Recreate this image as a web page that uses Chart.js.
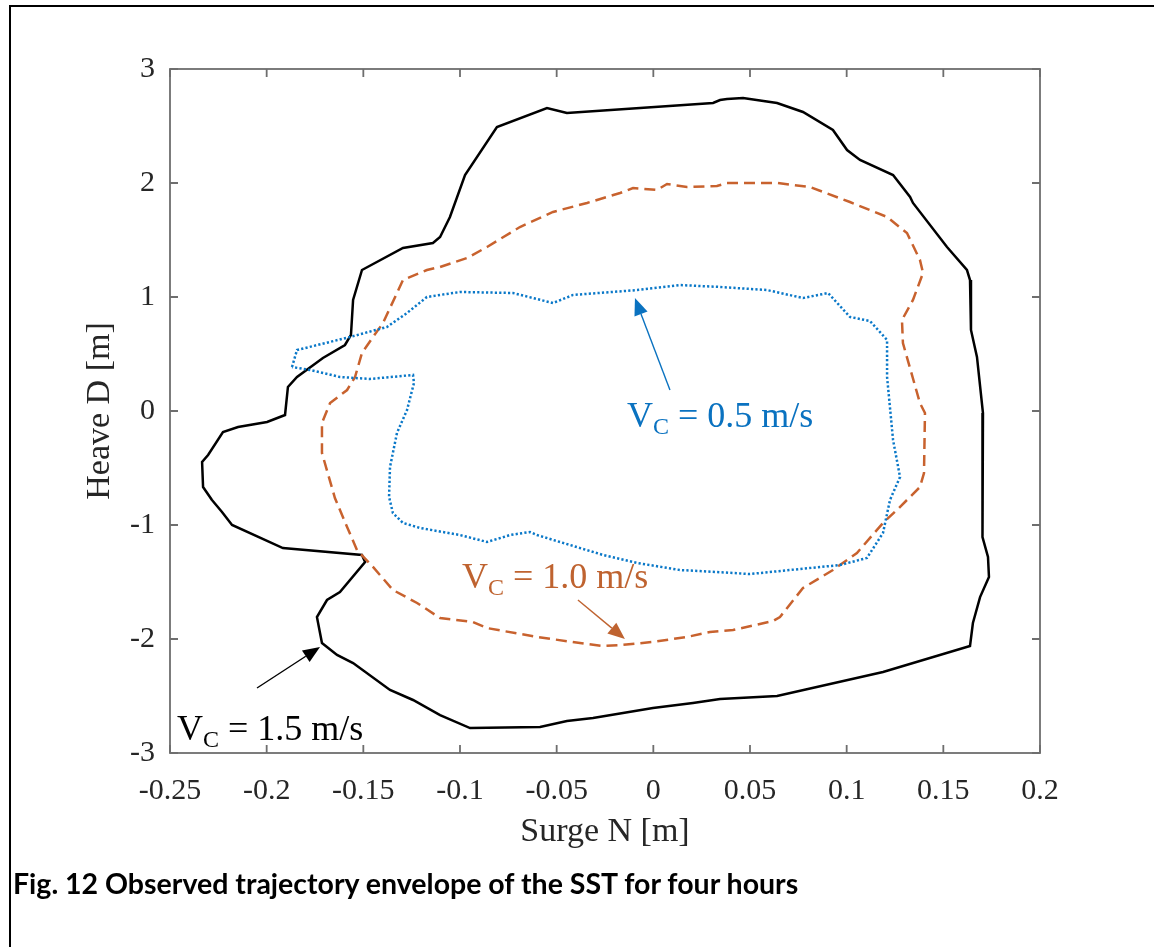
<!DOCTYPE html>
<html>
<head>
<meta charset="utf-8">
<script src="https://cdn.jsdelivr.net/npm/chart.js@4.4.1/dist/chart.umd.min.js"></script>
<style>
  html, body { margin: 0; padding: 0; background: #fff; }
  #wrap { position: relative; width: 1154px; height: 947px; overflow: hidden; }
  #frame { position: absolute; left: 9px; top: 5px; width: 1300px; height: 1100px;
           border-top: 2.5px solid #000; border-left: 2.5px solid #000; }
  #envelope { position: absolute; left: 0; top: 0; }
  #caption { position: absolute; left: 13px; top: 866px; font: bold 28.5px/34px Lato, sans-serif; color: #000; white-space: nowrap; }
</style>
</head>
<body>
<div id="wrap">
  <div id="frame"></div>
  <canvas id="envelope" width="1154" height="947"></canvas>
  <div id="caption">Fig. 12 Observed trajectory envelope of the SST for four hours</div>
</div>
<script>
// Envelope outlines, surge N [m] vs heave D [m]; each loop closes on its first point
const vc15X = [-0.2283, -0.2329, -0.2334, -0.2303, -0.2226, -0.2148, -0.1998, -0.1905, -0.1890, -0.1843,
  -0.1709, -0.1595, -0.1564, -0.1553, -0.1507, -0.1295, -0.1140, -0.1103, -0.1052, -0.0974,
  -0.0809, -0.0550, -0.0447, 0.0309, 0.0345, 0.0381, 0.0464, 0.0640, 0.0774, 0.0929,
  0.1002, 0.1069, 0.1240, 0.1328, 0.1343, 0.1519, 0.1622, 0.1638, 0.1643, 0.1674,
  0.1705, 0.1700, 0.1705, 0.1731, 0.1736, 0.1690, 0.1653, 0.1638, 0.1188, 0.0640,
  0.0345, 0.0205, -0.0002, -0.0312, -0.0447, -0.0586, -0.0948, -0.1103, -0.1243, -0.1362,
  -0.1553, -0.1636, -0.1714, -0.1740, -0.1688, -0.1621, -0.1491, -0.1507, -0.1916, -0.2179,
  -0.2231, -0.2283];
const vc15Y = [-0.781, -0.667, -0.447, -0.386, -0.184, -0.140, -0.096, -0.035, 0.211, 0.298,
  0.465, 0.579, 0.667, 0.974, 1.237, 1.430, 1.474, 1.526, 1.702, 2.070,
  2.491, 2.658, 2.614, 2.702, 2.728, 2.737, 2.746, 2.702, 2.623, 2.465,
  2.289, 2.202, 2.070, 1.877, 1.825, 1.439, 1.237, 1.149, 0.711, 0.474,
  -0.018, -0.368, -1.105, -1.281, -1.456, -1.632, -1.860, -2.061, -2.289, -2.500,
  -2.526, -2.561, -2.605, -2.693, -2.719, -2.772, -2.781, -2.667, -2.535, -2.447,
  -2.211, -2.140, -2.035, -1.807, -1.658, -1.588, -1.325, -1.263, -1.202, -1.000,
  -0.886, -0.781];

const vc10X = [-0.1533, -0.1584, -0.1647, -0.1714, -0.1714, -0.1672, -0.1584, -0.1543, -0.1507, -0.1450,
  -0.1398, -0.1295, -0.1171, -0.1103, -0.0964, -0.0860, -0.0690, -0.0519, -0.0343, -0.0172,
  -0.0105, 0.0019, 0.0071, 0.0174, 0.0329, 0.0381, 0.0640, 0.0810, 0.1017, 0.1209,
  0.1312, 0.1379, 0.1395, 0.1343, 0.1286, 0.1291, 0.1379, 0.1405, 0.1400, 0.1379,
  0.1260, 0.1188, 0.1053, 0.0929, 0.0774, 0.0655, 0.0619, 0.0412, 0.0293, 0.0174,
  -0.0002, -0.0172, -0.0260, -0.0343, -0.0602, -0.0860, -0.0933, -0.1103, -0.1222, -0.1347,
  -0.1450, -0.1533];
const vc10Y = [-1.219, -1.018, -0.763, -0.368, -0.105, 0.070, 0.184, 0.298, 0.509, 0.649,
  0.772, 1.149, 1.237, 1.263, 1.342, 1.439, 1.614, 1.746, 1.825, 1.912,
  1.956, 1.939, 1.991, 1.965, 1.974, 2.000, 2.000, 1.965, 1.833, 1.702,
  1.561, 1.325, 1.211, 0.974, 0.798, 0.596, 0.070, -0.018, -0.544, -0.667,
  -0.868, -0.982, -1.246, -1.395, -1.553, -1.807, -1.842, -1.921, -1.939, -1.982,
  -2.026, -2.053, -2.061, -2.044, -1.982, -1.904, -1.851, -1.816, -1.684, -1.570,
  -1.368, -1.219];

const vc05X = [-0.1869, -0.1843, -0.1569, -0.1378, -0.1274, -0.1171, -0.1103, -0.1000, -0.0726, -0.0519,
  -0.0415, -0.0084, 0.0138, 0.0345, 0.0588, 0.0774, 0.0904, 0.1017, 0.1121, 0.1209,
  0.1209, 0.1240, 0.1276, 0.1224, 0.1188, 0.1105, 0.0966, 0.0759, 0.0500, 0.0241,
  0.0138, -0.0084, -0.0260, -0.0602, -0.0638, -0.0741, -0.0860, -0.1000, -0.1207, -0.1295,
  -0.1347, -0.1367, -0.1362, -0.1326, -0.1274, -0.1238, -0.1243, -0.1466, -0.1621, -0.1776,
  -0.1869];
const vc05Y = [0.386, 0.535, 0.649, 0.737, 0.860, 1.000, 1.018, 1.044, 1.035, 0.947,
  1.018, 1.061, 1.105, 1.088, 1.061, 0.991, 1.035, 0.825, 0.789, 0.623,
  0.298, -0.254, -0.579, -0.781, -1.070, -1.289, -1.351, -1.386, -1.430, -1.404,
  -1.395, -1.333, -1.263, -1.088, -1.061, -1.088, -1.149, -1.088, -1.026, -0.982,
  -0.895, -0.754, -0.491, -0.193, 0.009, 0.246, 0.316, 0.281, 0.298, 0.360,
  0.386];

// Axis ticks
const xTicks = [-0.25, -0.2, -0.15, -0.1, -0.05, 0, 0.05, 0.1, 0.15, 0.2];
const xTickLabels = ['-0.25', '-0.2', '-0.15', '-0.1', '-0.05', '0', '0.05', '0.1', '0.15', '0.2'];
const yTicks = [-3, -2, -1, 0, 1, 2, 3];
const yTickLabels = ['-3', '-2', '-1', '0', '1', '2', '3'];

// Current-speed labels with their arrows (data coordinates)
const noteSpeed = ['0.5', '1.0', '1.5'];
const noteX = [-0.0136, -0.0990, -0.2464];
const noteY = [-0.140, -1.553, -2.886];
const arrowFromX = [0.0086, -0.0390, -0.2050];
const arrowFromY = [0.184, -1.658, -2.430];
const arrowToX = [-0.0095, -0.0147, -0.1724];
const arrowToY = [0.991, -2.000, -2.070];
const noteColor = ['#0a72c0', '#bf6330', '#000000'];

const pts = (xs, ys) => xs.map((x, i) => ({ x, y: ys[i] }));
const SERIF = '"Liberation Serif", "Times New Roman", serif';
const AXIS_GREY = '#6e6e6e';
const TEXT = '#262626';

// MATLAB-style box with inward ticks on all four sides
const boxAxes = {
  id: 'boxAxes',
  afterDatasetsDraw(chart) {
    const { ctx, chartArea: a, scales: { x, y } } = chart;
    ctx.save();
    ctx.strokeStyle = AXIS_GREY;
    ctx.lineWidth = 1.8;
    ctx.strokeRect(a.left, a.top, a.right - a.left, a.bottom - a.top);
    ctx.beginPath();
    const len = 8;
    xTicks.forEach(v => {
      const px = x.getPixelForValue(v);
      ctx.moveTo(px, a.bottom); ctx.lineTo(px, a.bottom - len);
      ctx.moveTo(px, a.top); ctx.lineTo(px, a.top + len);
    });
    yTicks.forEach(v => {
      const py = y.getPixelForValue(v);
      ctx.moveTo(a.left, py); ctx.lineTo(a.left + len, py);
      ctx.moveTo(a.right, py); ctx.lineTo(a.right - len, py);
    });
    ctx.stroke();
    ctx.restore();
  }
};

// "V_C = ... m/s" labels and their pointer arrows
const speedNotes = {
  id: 'speedNotes',
  afterDatasetsDraw(chart) {
    const { ctx, scales: { x, y } } = chart;
    ctx.save();
    noteSpeed.forEach((speed, i) => {
      const col = noteColor[i];
      const x0 = x.getPixelForValue(arrowFromX[i]), y0 = y.getPixelForValue(arrowFromY[i]);
      const x1 = x.getPixelForValue(arrowToX[i]), y1 = y.getPixelForValue(arrowToY[i]);
      const ang = Math.atan2(y1 - y0, x1 - x0);
      const head = 17, half = 7;
      const bx = x1 - head * Math.cos(ang), by = y1 - head * Math.sin(ang);
      ctx.strokeStyle = col;
      ctx.fillStyle = col;
      ctx.lineWidth = 1.4;
      ctx.beginPath();
      ctx.moveTo(x0, y0);
      ctx.lineTo(bx, by);
      ctx.stroke();
      ctx.beginPath();
      ctx.moveTo(x1, y1);
      ctx.lineTo(bx + half * Math.sin(ang), by - half * Math.cos(ang));
      ctx.lineTo(bx - half * Math.sin(ang), by + half * Math.cos(ang));
      ctx.closePath();
      ctx.fill();

      let tx = x.getPixelForValue(noteX[i]);
      const ty = y.getPixelForValue(noteY[i]);
      ctx.textBaseline = 'alphabetic';
      ctx.textAlign = 'left';
      ctx.font = '36px ' + SERIF;
      ctx.fillText('V', tx, ty);
      tx += ctx.measureText('V').width;
      ctx.font = '24px ' + SERIF;
      ctx.fillText('C', tx, ty + 7);
      tx += ctx.measureText('C').width;
      ctx.font = '36px ' + SERIF;
      ctx.fillText(' = ' + speed + ' m/s', tx, ty);
    });
    ctx.restore();
  }
};

const line = (data, color, dash, order) => ({
  data, borderColor: color, borderWidth: 2.5, borderDash: dash,
  showLine: true, pointRadius: 0, tension: 0, fill: false, order
});

new Chart(document.getElementById('envelope'), {
  type: 'scatter',
  data: {
    datasets: [
      line(pts(vc15X, vc15Y), '#000000', [], 3),
      line(pts(vc10X, vc10Y), '#c8622e', [11, 6], 2),
      line(pts(vc05X, vc05Y), '#0a78c8', [2.2, 2.2], 1)
    ]
  },
  options: {
    responsive: false,
    animation: false,
    layout: { padding: { left: 0, top: 69, right: 114, bottom: 94 } },
    plugins: { legend: { display: false }, tooltip: { enabled: false } },
    scales: {
      x: {
        type: 'linear', min: -0.25, max: 0.2,
        grid: { display: false, drawTicks: false },
        border: { display: false },
        afterBuildTicks: s => { s.ticks = xTicks.map(v => ({ value: v })); },
        afterFit: s => { s.height = 100; },
        ticks: {
          padding: 20, color: TEXT, autoSkip: false, maxRotation: 0,
          font: { family: SERIF, size: 30 },
          callback: (v, i) => xTickLabels[i]
        },
        title: {
          display: true, text: 'Surge N [m]', color: TEXT,
          font: { family: SERIF, size: 34 }, padding: { top: 0, bottom: 1 }
        }
      },
      y: {
        type: 'linear', min: -3, max: 3,
        grid: { display: false, drawTicks: false },
        border: { display: false },
        afterBuildTicks: s => { s.ticks = yTicks.map(v => ({ value: v })); },
        afterFit: s => { s.width = 170; },
        ticks: {
          padding: 15, color: TEXT, autoSkip: false,
          font: { family: SERIF, size: 30 },
          callback: (v, i) => yTickLabels[i]
        },
        title: {
          display: true, text: 'Heave D [m]', color: TEXT,
          font: { family: SERIF, size: 34 }, padding: { top: 80, bottom: 0 }
        }
      }
    }
  },
  plugins: [boxAxes, speedNotes]
});
</script>
</body>
</html>
